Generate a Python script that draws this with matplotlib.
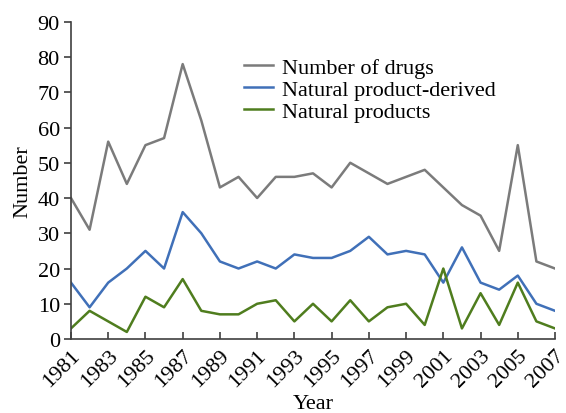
import matplotlib
matplotlib.use('Agg')
import matplotlib.pyplot as plt

#-------------
#  Data
#-------------
years = list(range(1981, 2008))

number_of_drugs = [40, 31, 56, 44, 55, 57, 78, 62, 43, 46, 40, 46, 46, 47, 43,
                   50, 47, 44, 46, 48, 43, 38, 35, 25, 55, 22, 20]
np_derived = [16, 9, 16, 20, 25, 20, 36, 30, 22, 20, 22, 20, 24, 23, 23,
              25, 29, 24, 25, 24, 16, 26, 16, 14, 18, 10, 8]
natural_products = [3, 8, 5, 2, 12, 9, 17, 8, 7, 7, 10, 11, 5, 10, 5,
                    11, 5, 9, 10, 4, 20, 3, 13, 4, 16, 5, 3]

labels = ['Number of drugs', 'Natural product-derived', 'Natural products']
colors = ['#7b7b7b', '#4070b8', '#4f7d1e']

#-------------
#  Plot
#-------------
plt.rcParams['font.family'] = ['Liberation Serif', 'DejaVu Serif']
plt.rcParams['font.size'] = 16

fig = plt.figure(figsize=(5.66, 4.14), dpi=100)
ax = fig.add_axes([0.1254, 0.1787, 0.8552, 0.7663])

for series, lab, col in zip([number_of_drugs, np_derived, natural_products], labels, colors):
    ax.plot(years, series, '-', color=col, lw=1.8, label=lab)

ax.set_xlim(1981, 2007)
ax.set_ylim(0, 90)
ax.set_yticks(range(0, 91, 10))
ax.set_xticks(range(1981, 2008, 2))
ax.set_xticklabels([str(y) for y in range(1981, 2008, 2)], rotation=45,
                   ha='right', rotation_mode='anchor')

for side in ['top', 'right']:
    ax.spines[side].set_visible(False)
for side in ['left', 'bottom']:
    ax.spines[side].set_color('#404040')
    ax.spines[side].set_linewidth(1.2)

ax.tick_params(axis='y', direction='out', length=5, width=1.2, color='#404040', pad=3)
ax.tick_params(axis='x', direction='in', length=5, width=1.2, color='#404040', pad=5)

ax.set_xlabel('Year', labelpad=2)
ax.set_ylabel('Number', labelpad=4)

ax.legend(loc='upper left', bbox_to_anchor=(0.335, 0.922), frameon=False,
          borderpad=0, handlelength=1.3, handletextpad=0.4, labelspacing=0.05)

fig.savefig('out.png', dpi=100)
